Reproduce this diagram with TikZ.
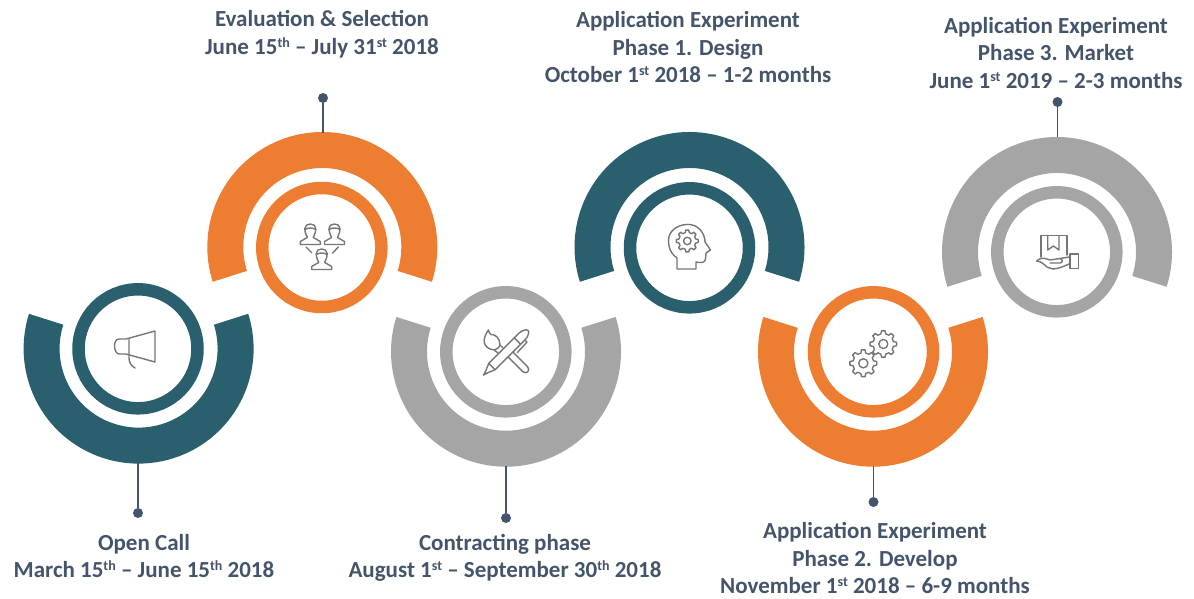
\documentclass[tikz,border=0pt]{standalone}
\usepackage{fontspec}
\setmainfont{Carlito}
\definecolor{tealc}{HTML}{2A606D}
\definecolor{orangec}{HTML}{ED7D31}
\definecolor{grayc}{HTML}{A5A5A5}
\definecolor{textc}{HTML}{44546A}
\definecolor{stemc}{HTML}{44546A}
\definecolor{iconc}{HTML}{757575}
\tikzset{
  label text/.style={font=\fontsize{23}{27.7}\selectfont\bfseries,text=textc,align=center,inner sep=0pt},
  stem/.style={draw=stemc,line width=1.6pt},
  stemdot/.style={circle,fill=stemc,inner sep=0pt,minimum size=10pt},
  stemfoot/.style={inner sep=0pt,minimum size=0pt},
  icon/.style={draw=iconc,line width=1.4pt,line join=round,line cap=round},
}
\newcommand{\supt}[1]{\raisebox{7.5pt}{\fontsize{14}{14}\selectfont #1}}
\newcommand{\bigarc}[5]{% cx cy start end colour
  \fill[#5] ([shift={(#1,#2)}]#3:115) arc[start angle=#3,end angle=#4,radius=115]
    -- ([shift={(#1,#2)}]#4:79) arc[start angle=#4,end angle=#3,radius=79] -- cycle;}
\newcommand{\ringc}[3]{% cx cy colour
  \draw[#3,line width=12.5pt] (#1,#2) circle[radius=59.5];}
\newcommand{\gearicon}[4]{% cx cy R teeth
  \begin{scope}[shift={(#1,#2)}]
  \draw[icon] (0:#3)
    \foreach \k [evaluate=\k as \a using (\k-1)*360/#4] in {1,...,#4}{
      -- ({\a+0.17*360/#4}:#3)
      -- ({\a+0.30*360/#4}:0.78*#3)
      -- ({\a+0.70*360/#4}:0.78*#3)
      -- ({\a+0.83*360/#4}:#3)
    } -- cycle;
  \draw[icon] (0,0) circle[radius=0.34*#3];
  \end{scope}}
\newcommand{\personicon}[2]{% cx cy
  \begin{scope}[shift={(#1,#2)}]
    \draw[icon] (-5.5,-7) .. controls (-5.5,-13) and (5.5,-13) .. (5.5,-7)
      .. controls (5.5,-2) and (3,1) .. (3,2) -- (10,6) -- (10,9) -- (-10,9) -- (-10,6) -- (-3,2)
      .. controls (-3,1) and (-5.5,-2) .. (-5.5,-7) -- cycle;
    \draw[icon] (-5.5,-6) .. controls (-2,-8) and (2,-8) .. (5.5,-6);
  \end{scope}}
\begin{document}
\begin{tikzpicture}[x=1pt,y=-1pt]
\useasboundingbox (0,0) rectangle (1194,599);
% big arcs and rings
\bigarc{138.6}{348.6}{-17.6}{197.6}{tealc}
\bigarc{322.3}{247}{17.6}{-197.6}{orangec}
\bigarc{506}{351.7}{-17.6}{197.6}{grayc}
\bigarc{689.5}{247}{17.6}{-197.6}{tealc}
\bigarc{873}{351.7}{-17.6}{197.6}{orangec}
\bigarc{1057}{252}{17.6}{-197.6}{grayc}
\ringc{138}{348.8}{tealc}
\ringc{321.8}{247.5}{orangec}
\ringc{505.8}{351.8}{grayc}
\ringc{689.5}{247.8}{tealc}
\ringc{873.5}{351.8}{orangec}
\ringc{1056.8}{251.8}{grayc}
% stems
\node[stemfoot] (f1) at (138,463) {};
\node[stemdot] (d1) at (138,513) {};
\draw[stem] (f1) -- (d1);
\node[stemfoot] (f2) at (323,133) {};
\node[stemdot] (d2) at (323,98) {};
\draw[stem] (f2) -- (d2);
\node[stemfoot] (f3) at (506,466) {};
\node[stemdot] (d3) at (506,518) {};
\draw[stem] (f3) -- (d3);
\node[stemfoot] (f5) at (873.5,466) {};
\node[stemdot] (d5) at (873.5,502) {};
\draw[stem] (f5) -- (d5);
\node[stemfoot] (f6) at (1057.5,137) {};
\node[stemdot] (d6) at (1057.5,102) {};
\draw[stem] (f6) -- (d6);
% labels
\node[label text] (t1) at (144,556) {Open Call\\March 15\supt{th} – June 15\supt{th} 2018};
\node[label text] (t2) at (322,34.5) {Evaluation \& Selection\\June 15\supt{th} – July 31\supt{st} 2018};
\node[label text] (t3) at (505,558) {Contracting phase\\August 1\supt{st} – September 30\supt{th} 2018};
\node[label text] (t4) at (688,47) {Application Experiment\\Phase 1. Design\\October 1\supt{st} 2018 – 1-2 months};
\node[label text] (t5) at (875,558) {Application Experiment\\Phase 2. Develop\\November 1\supt{st} 2018 – 6-9 months};
\node[label text] (t6) at (1056,53) {Application Experiment\\Phase 3. Market\\June 1\supt{st} 2019 – 2-3 months};
% icon 1 megaphone
\draw[icon] (126,339) -- (119,339) .. controls (113,339) and (113,353) .. (119,354) -- (126,354) -- (155,362) -- (155,331) -- cycle;
\draw[icon] (129,339) -- (129,358) .. controls (129,362) and (131,366) .. (135,368);
% icon 2 people
\personicon{310.3}{235.5}
\personicon{334.5}{235.5}
\personicon{321.7}{260.5}
\draw[icon] (306,247) -- (311.7,252.7);
\draw[icon] (338.3,247) -- (332.7,253);
% icon 3 brush and pen
\begin{scope}[shift={(510.7,354.7)},rotate=-45]
  \draw[icon] (0,-3.5) -- (20,-3.5) .. controls (25.5,-3.5) and (25.5,3.5) .. (20,3.5) -- (0,3.5);
\end{scope}
\draw[icon] (488.5,330) .. controls (484,336) and (481,345) .. (490,349) .. controls (494,351) and (499,349) .. (500,345)
  .. controls (500,338) and (495,334) .. (491,334.5) .. controls (489.5,334) and (489,332) .. (488.5,330) -- cycle;
\draw[icon] (494,350) -- (498,353);
\draw[icon] (500,345) -- (503,348);
\begin{scope}[shift={(483.5,375)},rotate=45]
  \draw[icon] (0,0) -- (5,-1.5) -- (12,-4.5) -- (54,-4.5) .. controls (59,-4.5) and (63,-2) .. (63,0) .. controls (63,2) and (59,4.5) .. (54,4.5) -- (12,4.5) -- (5,1.5) -- cycle;
  \draw[icon] (12,-4.5) -- (12,4.5);
  \draw[icon] (48,-4.5) -- (48,4.5);
  \draw[icon] (54,4.5) -- (54,7.5) -- (40,8);
\end{scope}
% icon 4 head with gear
\draw[icon] (677,269) -- (677,258) .. controls (668,252) and (667,240) .. (670,234) .. controls (674,226) and (684,224) .. (690,224.5)
  .. controls (701,226) and (705,236) .. (705,242) -- (710.5,250) -- (706,253) -- (705.5,259) .. controls (705,263) and (701,263) .. (696,262) -- (696,269) -- cycle;
\gearicon{687.3}{241}{11}{8}
% icon 5 gears
\gearicon{863.3}{363.3}{13.5}{8}
\gearicon{883.3}{344}{13.3}{8}
% icon 6 box on hand
\draw[icon] (1041,257) -- (1041,235.7) -- (1067,235.7) -- (1067,255);
\draw[icon] (1047.7,235.7) -- (1047.7,250) -- (1053.4,246) -- (1059,250) -- (1059,235.7);
\draw[icon] (1036.7,261) .. controls (1040,261) and (1044,264) .. (1047,267) .. controls (1053,271) and (1060,268) .. (1069,264);
\draw[icon] (1036.7,261) .. controls (1042,256) and (1046,259) .. (1050,260) -- (1060,258.5) .. controls (1063,259) and (1063,263) .. (1060,263) -- (1050,263);
\draw[icon] (1060,258.5) -- (1069,257);
\draw[icon] (1070,254) -- (1078.3,254) -- (1078.3,268.3) -- (1070,268.3) -- cycle;
\end{tikzpicture}
\end{document}
